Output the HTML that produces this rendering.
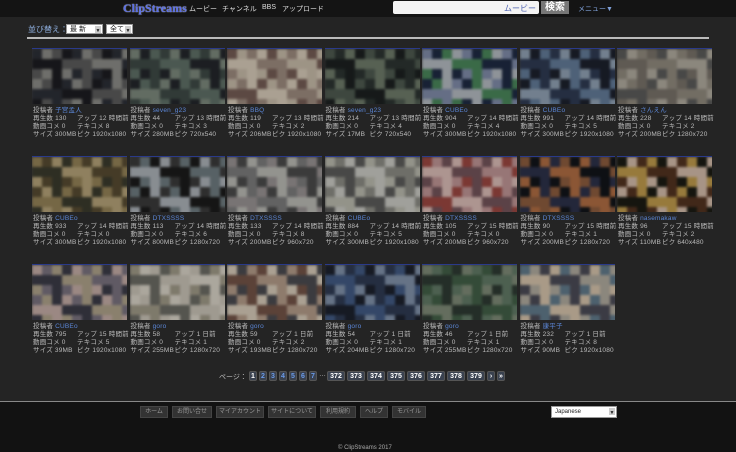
<!DOCTYPE html>
<html><head><meta charset="utf-8">
<style>
*{margin:0;padding:0;box-sizing:border-box}
body{width:736px;height:452px;overflow:hidden;background:#242424;font-family:"Liberation Sans","Noto Sans CJK JP",sans-serif;color:#ccc;position:relative}
#hdr{position:absolute;left:0;top:0;width:736px;height:17px;background:#141414}
.abs{position:absolute;white-space:nowrap}
.nav{font-size:7px;color:#ddd;top:4px}
#logo{left:123px;top:1px;font-family:"Liberation Serif",serif;font-weight:bold;font-size:12px;color:#5a6fe8;text-shadow:0 0 1px #fff}
#search{left:393px;top:1px;width:146px;height:13px;background:#f4f4f4;border-radius:2px}
#movie{left:504px;top:3px;font-size:8px;color:#4a5fb0}
#sbtn{left:541px;top:1px;width:28px;height:13px;background:#777;color:#fff;font-size:10px;font-weight:bold;text-align:center;line-height:13px}
#menu{left:578px;top:4px;font-size:7px;color:#7fa0d8}
.sel{background:#fff;color:#222;font-size:7px;height:10px;line-height:10px;padding-left:3px;border:1px solid #999}
.sel i{position:absolute;right:1px;top:1px;width:6px;height:7px;background:#ccc;font-style:normal;font-size:5px;text-align:center}
#rule{left:27px;top:37px;width:682px;height:2px;background:#bbb}
.thumb{position:absolute;width:95px;height:56px;overflow:hidden;border-top:1px solid #2a3a8a;background:#333}
.thumb .in{position:absolute;left:0;top:0;width:95px;height:56px;filter:blur(1.2px) brightness(0.8) saturate(0.75)}
.thumb .in div{position:absolute;width:10px;height:10px}
.info{position:absolute;font-size:6.5px;line-height:8px;color:#bbb;white-space:nowrap;letter-spacing:0.2px}
.info .u{color:#5b86d6}
.info span{display:inline-block}
.pg{position:absolute;top:371px;height:10px;font-size:7px;line-height:9px;text-align:center;background:#3a4250;border:1px solid #555;border-radius:2px;color:#fff;font-weight:bold}
#foot{position:absolute;left:0;top:401px;width:736px;height:51px;background:#121212;border-top:1px solid #888}
.fb{position:absolute;top:4px;height:12px;background:#333;border:1px solid #444;font-size:6px;color:#999;line-height:11px;text-align:center}
</style></head><body>
<div id="hdr"></div>
<div class="abs" id="logo">ClipStreams</div>
<div class="abs nav" style="left:189px">ムービー</div>
<div class="abs nav" style="left:222px">チャンネル</div>
<div class="abs nav" style="left:262px">BBS</div>
<div class="abs nav" style="left:282px">アップロード</div>
<div class="abs" id="search"></div>
<div class="abs" id="movie">ムービー</div>
<div class="abs" id="sbtn">検索</div>
<div class="abs" id="menu">メニュー▼</div>
<div class="abs" style="left:28px;top:24px;font-size:8px;color:#8fb0e0">並び替え：</div>
<div class="abs sel" style="left:66px;top:24px;width:37px">最 新<i>▼</i></div>
<div class="abs sel" style="left:106px;top:24px;width:27px">全て<i>▼</i></div>
<div class="abs" id="rule"></div>
<div id="grid"></div>
<div class="abs" style="left:219px;top:372px;font-size:7px;color:#bbb">ページ：</div>
<div id="pager"></div>
<div id="foot">
<div class="abs sel" style="left:551px;top:4px;width:66px;height:12px;font-size:6px">Japanese<i>▼</i></div>
<div class="abs" style="left:338px;top:43px;font-size:6px;color:#aaa">© ClipStreams 2017</div>
</div>
<script>
const posters=["子宮孟人","seven_g23","BBQ","seven_g23","CUBEo","CUBEo","さんえん","CUBEo","DTXSSSS","DTXSSSS","CUBEo","DTXSSSS","DTXSSSS","nasemakaw","CUBEo","goro","goro","goro","goro","康平子"];
const plays=[130,44,119,214,904,991,228,933,113,133,884,105,90,96,795,58,59,54,46,232];
const ups=["12 時間前","13 時間前","13 時間前","13 時間前","14 時間前","14 時間前","14 時間前","14 時間前","14 時間前","14 時間前","14 時間前","15 時間前","15 時間前","15 時間前","15 時間前","1 日前","1 日前","1 日前","1 日前","1 日前"];
const techs=[8,3,2,4,4,5,2,0,6,8,5,0,1,2,5,1,2,1,1,8];
const sizes=["300MB","280MB","206MB","17MB","300MB","300MB","200MB","300MB","800MB","200MB","300MB","200MB","200MB","110MB","39MB","255MB","193MB","204MB","255MB","90MB"];
const resos=["1920x1080","720x540","1920x1080","720x540","1920x1080","1920x1080","1280x720","1920x1080","1280x720","960x720","1920x1080","960x720","1280x720","640x480","1920x1080","1280x720","1280x720","1280x720","1280x720","1920x1080"];
const pal=[["#2a2e38","#1c1c22","#5a5a5a","#8a8a84"],["#3a4a44","#5a7064","#22262c","#788878"],["#a08878","#c8b8a0","#7a5a50","#d8c8b0"],["#2a3430","#4a5a4c","#1a2020","#6a7a64"],["#7a8ab0","#b0b8c0","#3a8a50","#1a2a4a"],["#2a3a5a","#5a7aa0","#1a2030","#8aa0b8"],["#908878","#b0a898","#5a5a58","#787064"],["#5a4a28","#988048","#3a3a28","#b8a068"],["#3a3a3a","#a8b0b8","#1a1a1a","#6a7a80"],["#7a7a7a","#b8b8b0","#4a4a4a","#989090"],["#c8c8c0","#8a8a80","#b8b8a8","#5a5a58"],["#c89090","#b04038","#e0b8b0","#7a5058"],["#985830","#2a3050","#c06830","#10141a"],["#c89830","#5a3018","#d8b8a0","#1a1a10"],["#b0a080","#7a7080","#c8a8a0","#3a3a4a"],["#d8d0c0","#a09880","#6a6a60","#c8c0b0"],["#d8c8b0","#7a5040","#b89880","#4a4a50"],["#3a5a90","#2a3a5a","#7a90b0","#1a2030"],["#3a6040","#5a7a60","#7a8a70","#2a3a30"],["#b0a898","#5a7a90","#d8c0a0","#4a4a58"]];
const grid=document.getElementById('grid');
const rowY=[48,156,264];
for(let i=0;i<posters.length;i++){
  const r=Math.floor(i/7),c=i%7,x=32+c*97.5,y=rowY[r];
  const t=document.createElement('div');t.className='thumb';
  
  
  t.style.left=x+'px';t.style.top=y+'px';
  let h='<div class="in">';
  for(let yy=0;yy<6;yy++)for(let xx=0;xx<10;xx++){const k=(i*7+xx*3+yy*5+((xx*yy)%3))%4;h+=`<div style="left:${xx*10}px;top:${yy*10}px;background:${pal[i][k]}"></div>`;}
  t.innerHTML=h+'</div>';grid.appendChild(t);
  const inf=document.createElement('div');inf.className='info';
  
  
  inf.style.left=(x+1)+'px';inf.style.top=(y+59)+'px';
  inf.innerHTML=`<div>投稿者 <span class="u">${posters[i]}</span></div><div><span style="width:44px">再生数 ${plays[i]}</span>アップ ${ups[i]}</div><div><span style="width:44px">動画コメ 0</span>テキコメ ${techs[i]}</div><div><span style="width:44px">サイズ ${sizes[i]}</span>ピク ${resos[i]}</div>`;
  grid.appendChild(inf);
}
const pages=["1","2","3","4","5","6","7","…","372","373","374","375","376","377","378","379","›","»"];
let px=249;const pager=document.getElementById('pager');
pages.forEach(p=>{
  const d=document.createElement('div');
  if(p==="…"){d.className='abs';d.style.cssText=`left:${px}px;top:371px;font-size:7px;color:#bbb`;d.textContent='…';
    
    
    px+=8;}
  else{d.className='pg';const w=p.length>2?18:8;d.style.left=px+'px';d.style.width=w+'px';d.textContent=p;
    if(p.length<2&&p!=="›"&&p!=="»"&&p!=="1")d.style.color='#6a9ae8';
    
    
    px+=w+2;}
  pager.appendChild(d);
});
const fl=["ホーム","お問い合せ","マイアカウント","サイトについて","利用規約","ヘルプ","モバイル"];
const fw=[28,40,48,48,36,28,34];
let fx=140;const foot=document.getElementById('foot');
fl.forEach((l,i)=>{const d=document.createElement('div');d.className='fb';d.style.left=fx+'px';d.style.width=fw[i]+'px';d.textContent=l;
  
  
  foot.appendChild(d);fx+=fw[i]+4;});
</script>
</body></html>
